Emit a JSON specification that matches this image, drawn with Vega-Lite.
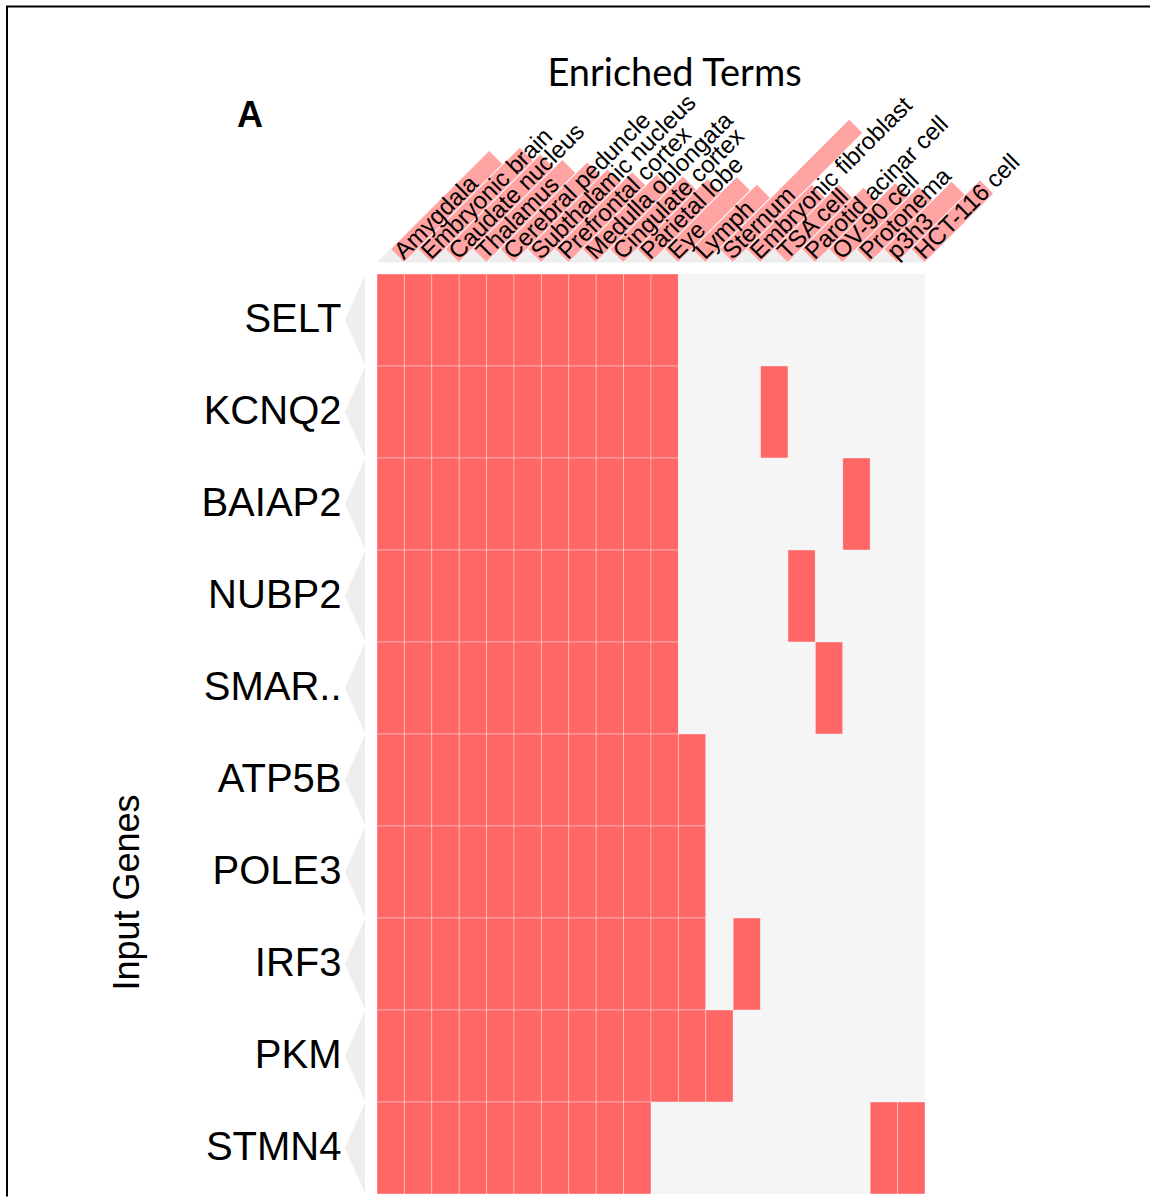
{
  "$schema": "https://vega.github.io/schema/vega-lite/v6.json",
  "background": "white",
  "padding": {"left": 3, "top": 2, "right": 0, "bottom": 0},
  "bounds": "flush",
  "spacing": 11,
  "config": {"view": {"stroke": null}, "font": "Liberation Sans"},
  "datasets": {
    "terms": [
      {"term": "Amygdala", "rank": 1, "score": 3.58},
      {"term": "Embryonic brain", "rank": 2, "score": 3.7},
      {"term": "Caudate nucleus", "rank": 3, "score": 3.45},
      {"term": "Thalamus", "rank": 4, "score": 3.25},
      {"term": "Cerebral peduncle", "rank": 5, "score": 3.16},
      {"term": "Subthalamic nucleus", "rank": 6, "score": 2.9},
      {"term": "Prefrontal cortex", "rank": 7, "score": 2.8},
      {"term": "Medulla oblongata", "rank": 8, "score": 2.7},
      {"term": "Cingulate cortex", "rank": 9, "score": 2.65},
      {"term": "Parietal lobe", "rank": 10, "score": 2.55},
      {"term": "Eye", "rank": 11, "score": 2.62},
      {"term": "Lymph", "rank": 12, "score": 2.35},
      {"term": "Sternum", "rank": 13, "score": 4.72},
      {"term": "Embryonic fibroblast", "rank": 14, "score": 2.35},
      {"term": "TSA cell", "rank": 15, "score": 2.35},
      {"term": "Parotid acinar cell", "rank": 16, "score": 2.24},
      {"term": "OV-90 cell", "rank": 17, "score": 2.4},
      {"term": "Protonema", "rank": 18, "score": 2.26},
      {"term": "p3h3", "rank": 19, "score": 2.46},
      {"term": "HCT-116 cell", "rank": 20, "score": 2.5}
    ],
    "matrix": [
      {"gene": "SELT", "Amygdala": 1, "Embryonic brain": 1, "Caudate nucleus": 1, "Thalamus": 1, "Cerebral peduncle": 1, "Subthalamic nucleus": 1, "Prefrontal cortex": 1, "Medulla oblongata": 1, "Cingulate cortex": 1, "Parietal lobe": 1, "Eye": 1, "Lymph": 0, "Sternum": 0, "Embryonic fibroblast": 0, "TSA cell": 0, "Parotid acinar cell": 0, "OV-90 cell": 0, "Protonema": 0, "p3h3": 0, "HCT-116 cell": 0},
      {"gene": "KCNQ2", "Amygdala": 1, "Embryonic brain": 1, "Caudate nucleus": 1, "Thalamus": 1, "Cerebral peduncle": 1, "Subthalamic nucleus": 1, "Prefrontal cortex": 1, "Medulla oblongata": 1, "Cingulate cortex": 1, "Parietal lobe": 1, "Eye": 1, "Lymph": 0, "Sternum": 0, "Embryonic fibroblast": 0, "TSA cell": 1, "Parotid acinar cell": 0, "OV-90 cell": 0, "Protonema": 0, "p3h3": 0, "HCT-116 cell": 0},
      {"gene": "BAIAP2", "Amygdala": 1, "Embryonic brain": 1, "Caudate nucleus": 1, "Thalamus": 1, "Cerebral peduncle": 1, "Subthalamic nucleus": 1, "Prefrontal cortex": 1, "Medulla oblongata": 1, "Cingulate cortex": 1, "Parietal lobe": 1, "Eye": 1, "Lymph": 0, "Sternum": 0, "Embryonic fibroblast": 0, "TSA cell": 0, "Parotid acinar cell": 0, "OV-90 cell": 0, "Protonema": 1, "p3h3": 0, "HCT-116 cell": 0},
      {"gene": "NUBP2", "Amygdala": 1, "Embryonic brain": 1, "Caudate nucleus": 1, "Thalamus": 1, "Cerebral peduncle": 1, "Subthalamic nucleus": 1, "Prefrontal cortex": 1, "Medulla oblongata": 1, "Cingulate cortex": 1, "Parietal lobe": 1, "Eye": 1, "Lymph": 0, "Sternum": 0, "Embryonic fibroblast": 0, "TSA cell": 0, "Parotid acinar cell": 1, "OV-90 cell": 0, "Protonema": 0, "p3h3": 0, "HCT-116 cell": 0},
      {"gene": "SMAR..", "Amygdala": 1, "Embryonic brain": 1, "Caudate nucleus": 1, "Thalamus": 1, "Cerebral peduncle": 1, "Subthalamic nucleus": 1, "Prefrontal cortex": 1, "Medulla oblongata": 1, "Cingulate cortex": 1, "Parietal lobe": 1, "Eye": 1, "Lymph": 0, "Sternum": 0, "Embryonic fibroblast": 0, "TSA cell": 0, "Parotid acinar cell": 0, "OV-90 cell": 1, "Protonema": 0, "p3h3": 0, "HCT-116 cell": 0},
      {"gene": "ATP5B", "Amygdala": 1, "Embryonic brain": 1, "Caudate nucleus": 1, "Thalamus": 1, "Cerebral peduncle": 1, "Subthalamic nucleus": 1, "Prefrontal cortex": 1, "Medulla oblongata": 1, "Cingulate cortex": 1, "Parietal lobe": 1, "Eye": 1, "Lymph": 1, "Sternum": 0, "Embryonic fibroblast": 0, "TSA cell": 0, "Parotid acinar cell": 0, "OV-90 cell": 0, "Protonema": 0, "p3h3": 0, "HCT-116 cell": 0},
      {"gene": "POLE3", "Amygdala": 1, "Embryonic brain": 1, "Caudate nucleus": 1, "Thalamus": 1, "Cerebral peduncle": 1, "Subthalamic nucleus": 1, "Prefrontal cortex": 1, "Medulla oblongata": 1, "Cingulate cortex": 1, "Parietal lobe": 1, "Eye": 1, "Lymph": 1, "Sternum": 0, "Embryonic fibroblast": 0, "TSA cell": 0, "Parotid acinar cell": 0, "OV-90 cell": 0, "Protonema": 0, "p3h3": 0, "HCT-116 cell": 0},
      {"gene": "IRF3", "Amygdala": 1, "Embryonic brain": 1, "Caudate nucleus": 1, "Thalamus": 1, "Cerebral peduncle": 1, "Subthalamic nucleus": 1, "Prefrontal cortex": 1, "Medulla oblongata": 1, "Cingulate cortex": 1, "Parietal lobe": 1, "Eye": 1, "Lymph": 1, "Sternum": 0, "Embryonic fibroblast": 1, "TSA cell": 0, "Parotid acinar cell": 0, "OV-90 cell": 0, "Protonema": 0, "p3h3": 0, "HCT-116 cell": 0},
      {"gene": "PKM", "Amygdala": 1, "Embryonic brain": 1, "Caudate nucleus": 1, "Thalamus": 1, "Cerebral peduncle": 1, "Subthalamic nucleus": 1, "Prefrontal cortex": 1, "Medulla oblongata": 1, "Cingulate cortex": 1, "Parietal lobe": 1, "Eye": 1, "Lymph": 1, "Sternum": 1, "Embryonic fibroblast": 0, "TSA cell": 0, "Parotid acinar cell": 0, "OV-90 cell": 0, "Protonema": 0, "p3h3": 0, "HCT-116 cell": 0},
      {"gene": "STMN4", "Amygdala": 1, "Embryonic brain": 1, "Caudate nucleus": 1, "Thalamus": 1, "Cerebral peduncle": 1, "Subthalamic nucleus": 1, "Prefrontal cortex": 1, "Medulla oblongata": 1, "Cingulate cortex": 1, "Parietal lobe": 1, "Eye": 0, "Lymph": 0, "Sternum": 0, "Embryonic fibroblast": 0, "TSA cell": 0, "Parotid acinar cell": 0, "OV-90 cell": 0, "Protonema": 0, "p3h3": 1, "HCT-116 cell": 1}
    ]
  },
  "vconcat": [
    {
      "width": 548,
      "height": 164.4,
      "data": {"name": "terms"},
      "layer": [
        {
          "data": {"values": [{"part": "frame"}]},
          "mark": {"type": "point", "shape": "M-0.9605,1 L-0.9605,-1 L0.9605,-1", "size": 1416100, "filled": false, "color": "black", "strokeWidth": 2, "opacity": 1},
          "encoding": {
            "x": {"datum": 7.854, "type": "quantitative", "axis": null, "scale": {"domain": [0.5, 20.5], "nice": false, "zero": false}},
            "y": {"datum": -12.372, "type": "quantitative", "axis": null, "scale": {"domain": [0, 6], "nice": false, "zero": false}}
          }
        },
        {
          "mark": {"type": "point", "shape": "M-1,0 L0,-1 L1,0 Z", "size": 750.76, "filled": true, "color": "#EEEEEE", "opacity": 1, "strokeWidth": 0},
          "encoding": {
            "x": {"field": "rank", "type": "quantitative", "axis": null},
            "y": {"value": "height"}
          }
        },
        {
          "transform": [{"calculate": "datum.rank + datum.score", "as": "tip"}],
          "mark": {"type": "rule", "color": "#FFA3A3", "strokeWidth": 18.4, "strokeCap": "butt", "xOffset": 6.85, "x2Offset": 6.85, "yOffset": -6.85, "y2Offset": -6.85},
          "encoding": {
            "x": {"field": "tip", "type": "quantitative", "axis": null},
            "x2": {"field": "rank"},
            "y": {"field": "score", "type": "quantitative", "axis": null},
            "y2": {"value": "height"}
          }
        },
        {
          "mark": {"type": "text", "angle": 315, "align": "left", "baseline": "middle", "fontSize": 24, "font": "Liberation Sans", "color": "black", "xOffset": 8, "yOffset": -6.85},
          "encoding": {
            "x": {"field": "rank", "type": "quantitative", "axis": null},
            "y": {"value": "height"},
            "text": {"field": "term", "type": "nominal"}
          }
        },
        {
          "data": {"values": [{"label": "A"}]},
          "mark": {"type": "text", "align": "center", "baseline": "alphabetic", "fontSize": 36, "fontWeight": "bold", "font": "Liberation Sans", "color": "black"},
          "encoding": {
            "x": {"datum": -4.135, "type": "quantitative", "axis": null},
            "y": {"datum": 4.927, "type": "quantitative", "axis": null},
            "text": {"field": "label", "type": "nominal"}
          }
        },
        {
          "data": {"values": [{"label": "Enriched Terms"}]},
          "mark": {"type": "text", "align": "center", "baseline": "alphabetic", "fontSize": 38, "font": "Lato", "color": "black"},
          "encoding": {
            "x": {"datum": 11.358, "type": "quantitative", "axis": null},
            "y": {"datum": 6.42, "type": "quantitative", "axis": null},
            "text": {"field": "label", "type": "nominal"}
          }
        }
      ]
    },
    {
      "width": 548,
      "height": 920,
      "data": {"name": "matrix"},
      "transform": [{"fold": ["Amygdala", "Embryonic brain", "Caudate nucleus", "Thalamus", "Cerebral peduncle", "Subthalamic nucleus", "Prefrontal cortex", "Medulla oblongata", "Cingulate cortex", "Parietal lobe", "Eye", "Lymph", "Sternum", "Embryonic fibroblast", "TSA cell", "Parotid acinar cell", "OV-90 cell", "Protonema", "p3h3", "HCT-116 cell"], "as": ["term", "value"]}],
      "encoding": {
        "x": {
          "field": "term",
          "type": "nominal",
          "axis": null,
          "scale": {"domain": ["Amygdala", "Embryonic brain", "Caudate nucleus", "Thalamus", "Cerebral peduncle", "Subthalamic nucleus", "Prefrontal cortex", "Medulla oblongata", "Cingulate cortex", "Parietal lobe", "Eye", "Lymph", "Sternum", "Embryonic fibroblast", "TSA cell", "Parotid acinar cell", "OV-90 cell", "Protonema", "p3h3", "HCT-116 cell"], "paddingInner": 0, "paddingOuter": 0}
        },
        "y": {
          "field": "gene",
          "type": "nominal",
          "scale": {"domain": ["SELT", "KCNQ2", "BAIAP2", "NUBP2", "SMAR..", "ATP5B", "POLE3", "IRF3", "PKM", "STMN4"], "paddingInner": 0, "paddingOuter": 0},
          "axis": {
            "title": "Input Genes",
            "titleFont": "Liberation Sans",
            "titleFontSize": 36,
            "titleFontWeight": "normal",
            "titleColor": "black",
            "titleAngle": -90,
            "titleAlign": "center",
            "titleBaseline": "alphabetic",
            "titleX": -239,
            "titleY": 618,
            "labelFont": "Liberation Sans",
            "labelFontSize": 40,
            "labelColor": "black",
            "labelPadding": 36,
            "ticks": false,
            "tickSize": 0,
            "domain": false,
            "grid": false
          }
        }
      },
      "layer": [
        {
          "transform": [{"filter": "datum.term === 'Amygdala'"}],
          "mark": {"type": "point", "shape": "M-0.559,-0.98 L-0.993,0 L-0.559,0.98 Z", "size": 8464, "filled": true, "color": "#EEEEEE", "opacity": 1, "strokeWidth": 0}
        },
        {
          "mark": {"type": "rect", "stroke": "white", "strokeWidth": 1},
          "encoding": {
            "color": {"field": "value", "type": "nominal", "scale": {"domain": [0, 1], "range": ["#F5F5F5", "#FF6666"]}, "legend": null},
            "strokeOpacity": {"condition": {"test": "datum.value == 1", "value": 0.35}, "value": 0.1}
          }
        }
      ]
    }
  ]
}
